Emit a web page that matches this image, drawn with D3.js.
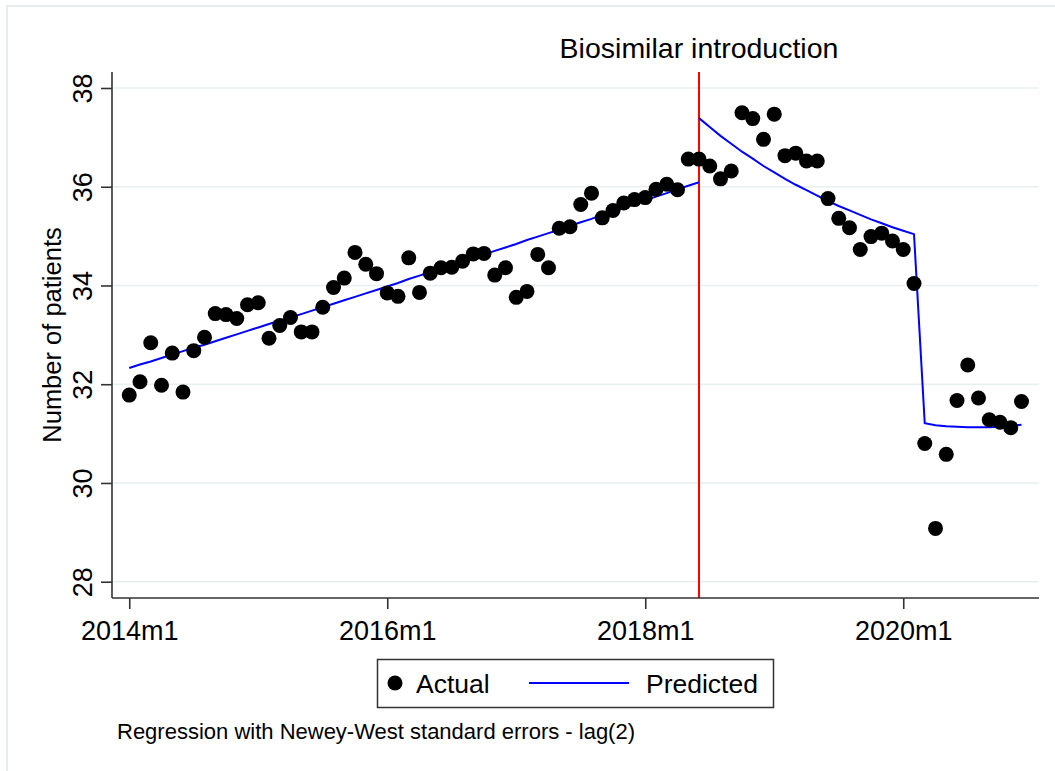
<!DOCTYPE html>
<html>
<head>
<meta charset="utf-8">
<script src="https://cdn.jsdelivr.net/npm/d3@7"></script>
<style>
  html, body { margin: 0; padding: 0; background: #fff; }
  svg { display: block; font-family: "Liberation Sans", Arial, sans-serif; }
</style>
</head>
<body>
<svg id="chart" width="1055" height="771"></svg>
<script>
// ---- Data (monthly, 2014m1 .. 2020m12; index 0 = 2014m1) ----
const actual = [
  31.78, 32.05, 32.84, 31.98, 32.63, 31.84, 32.68, 32.95, 33.43, 33.41, 33.33, 33.61,
  33.65, 32.93, 33.19, 33.35, 33.06, 33.06, 33.56, 33.96, 34.15, 34.67, 34.43, 34.24,
  33.85, 33.78, 34.56, 33.86, 34.25, 34.36, 34.37, 34.49, 34.64, 34.65, 34.21, 34.36,
  33.76, 33.88, 34.63, 34.36, 35.16, 35.19, 35.64, 35.87, 35.37, 35.52, 35.67, 35.74,
  35.78, 35.95, 36.05, 35.94, 36.56, 36.56, 36.42, 36.16, 36.32, 37.50, 37.38, 36.96,
  37.47, 36.63, 36.68, 36.52, 36.52, 35.76, 35.36, 35.17, 34.73, 34.99, 35.06, 34.90,
  34.73, 34.04, 30.80, 29.08, 30.58, 31.67, 32.39, 31.72, 31.28, 31.23, 31.12, 31.65
];
// Predicted, pre-introduction (index 0 .. 53)
const predictedPre = [
  32.33, 32.40, 32.46, 32.53, 32.60, 32.67, 32.74, 32.80, 32.87, 32.94, 33.01, 33.08,
  33.15, 33.22, 33.29, 33.35, 33.42, 33.49, 33.56, 33.63, 33.70, 33.77, 33.84, 33.91,
  33.98, 34.05, 34.13, 34.20, 34.27, 34.34, 34.41, 34.48, 34.55, 34.63, 34.70, 34.77,
  34.84, 34.92, 34.99, 35.06, 35.13, 35.21, 35.28, 35.35, 35.43, 35.50, 35.57, 35.65,
  35.72, 35.80, 35.87, 35.95, 36.02, 36.09
];
// Predicted, post-introduction (index 53 .. 83)
const predictedPost = [
  37.39, 37.21, 37.03, 36.87, 36.71, 36.57, 36.42, 36.29, 36.16, 36.04, 35.93, 35.82,
  35.71, 35.61, 35.52, 35.43, 35.34, 35.26, 35.18, 35.11, 35.04,
  31.21, 31.17, 31.15, 31.14, 31.13, 31.13, 31.13, 31.14, 31.16, 31.18
];
const preStart = 0, postStart = 53;
const interventionIdx = 53;                 // 2018m6
const xTickIdx = [0, 24, 48, 72];
const xTickLabels = ["2014m1", "2016m1", "2018m1", "2020m1"];
const yTicks = [28, 30, 32, 34, 36, 38];
const titleText = "Biosimilar introduction";
const yTitle = "Number of patients";
const legendLabels = ["Actual", "Predicted"];
const noteText = "Regression with Newey-West standard errors - lag(2)";

// ---- Layout ----
const svg = d3.select("#chart");
const plotLeft = 112, plotRight = 1039, plotTop = 72, plotBottom = 598;

const x = d3.scaleLinear().domain([0, 83]).range([129.25, 1021.5]);
const y = d3.scaleLinear().domain([28, 38]).range([581.7, 88]);

// outer graph region border (light)
svg.append("rect").attr("x", 7).attr("y", 6).attr("width", 1100).attr("height", 800)
  .attr("fill", "none").attr("stroke", "#e6edf2").attr("stroke-width", 2);

// gridlines
svg.append("g").selectAll("line").data(yTicks).join("line")
  .attr("x1", plotLeft).attr("x2", plotRight)
  .attr("y1", d => y(d)).attr("y2", d => y(d))
  .attr("stroke", "#e7eff1").attr("stroke-width", 1.6);

// red intervention line
svg.append("line")
  .attr("x1", x(interventionIdx)).attr("x2", x(interventionIdx))
  .attr("y1", plotTop).attr("y2", plotBottom)
  .attr("stroke", "#ff0000").attr("stroke-width", 2);

// y axis
const yAxis = d3.axisLeft(y).tickValues(yTicks).tickSize(11).tickPadding(8).tickFormat(d3.format("d"));
const gy = svg.append("g").attr("transform", `translate(${plotLeft},0)`).call(yAxis);
gy.select(".domain").attr("d", `M0,${plotTop}V${plotBottom}`).attr("stroke", "#333").attr("stroke-width", 1.6);
gy.selectAll(".tick line").attr("stroke", "#333").attr("stroke-width", 1.6);
gy.selectAll(".tick text")
  .attr("font-size", 27).attr("fill", "#000")
  .attr("text-anchor", "middle")
  .attr("transform", "rotate(-90)")
  .attr("x", 0).attr("y", -20).attr("dy", 0);
gy.selectAll(".tick text").attr("x", 0).attr("y", -20);

// x axis
const xAxis = d3.axisBottom(x).tickValues(xTickIdx).tickSize(11).tickPadding(8)
  .tickFormat((d, i) => xTickLabels[i]);
const gx = svg.append("g").attr("transform", `translate(0,${plotBottom})`).call(xAxis);
gx.select(".domain").attr("d", `M${plotLeft},0H${plotRight}`).attr("stroke", "#333").attr("stroke-width", 1.6);
gx.selectAll(".tick line").attr("stroke", "#333").attr("stroke-width", 1.6);
gx.selectAll(".tick text").attr("font-size", 27).attr("fill", "#000").attr("y", 42).attr("dy", 0);

// y axis title
svg.append("text")
  .attr("transform", `translate(61,${(plotTop + plotBottom) / 2}) rotate(-90)`)
  .attr("text-anchor", "middle").attr("font-size", 25.5).attr("fill", "#000")
  .text(yTitle);

// title
svg.append("text").attr("x", x(interventionIdx)).attr("y", 58)
  .attr("text-anchor", "middle").attr("font-size", 28.5).attr("fill", "#000")
  .text(titleText);

// predicted lines
const line = d3.line().x(d => x(d.i)).y(d => y(d.v));
svg.append("path")
  .datum(predictedPre.map((v, k) => ({ i: preStart + k, v })))
  .attr("d", line).attr("fill", "none").attr("stroke", "#0000ff").attr("stroke-width", 2);
svg.append("path")
  .datum(predictedPost.map((v, k) => ({ i: postStart + k, v })))
  .attr("d", line).attr("fill", "none").attr("stroke", "#0000ff").attr("stroke-width", 2);

// actual points
svg.append("g").selectAll("circle").data(actual).join("circle")
  .attr("cx", (d, i) => x(i)).attr("cy", d => y(d)).attr("r", 7.5)
  .attr("fill", "#000");

// legend
const lg = svg.append("g");
lg.append("rect").attr("x", 377.5).attr("y", 659.5).attr("width", 396).attr("height", 48)
  .attr("fill", "#fff").attr("stroke", "#333").attr("stroke-width", 1.5);
lg.append("circle").attr("cx", 395).attr("cy", 683).attr("r", 7.5).attr("fill", "#000");
lg.append("text").attr("x", 416).attr("y", 693).attr("font-size", 26.5).attr("fill", "#000").text(legendLabels[0]);
lg.append("line").attr("x1", 529).attr("x2", 629).attr("y1", 683).attr("y2", 683)
  .attr("stroke", "#0000ff").attr("stroke-width", 2);
lg.append("text").attr("x", 646).attr("y", 693).attr("font-size", 26.5).attr("fill", "#000").text(legendLabels[1]);

// note
svg.append("text").attr("x", 117).attr("y", 739).attr("font-size", 22).attr("fill", "#000").text(noteText);
</script>
</body>
</html>
